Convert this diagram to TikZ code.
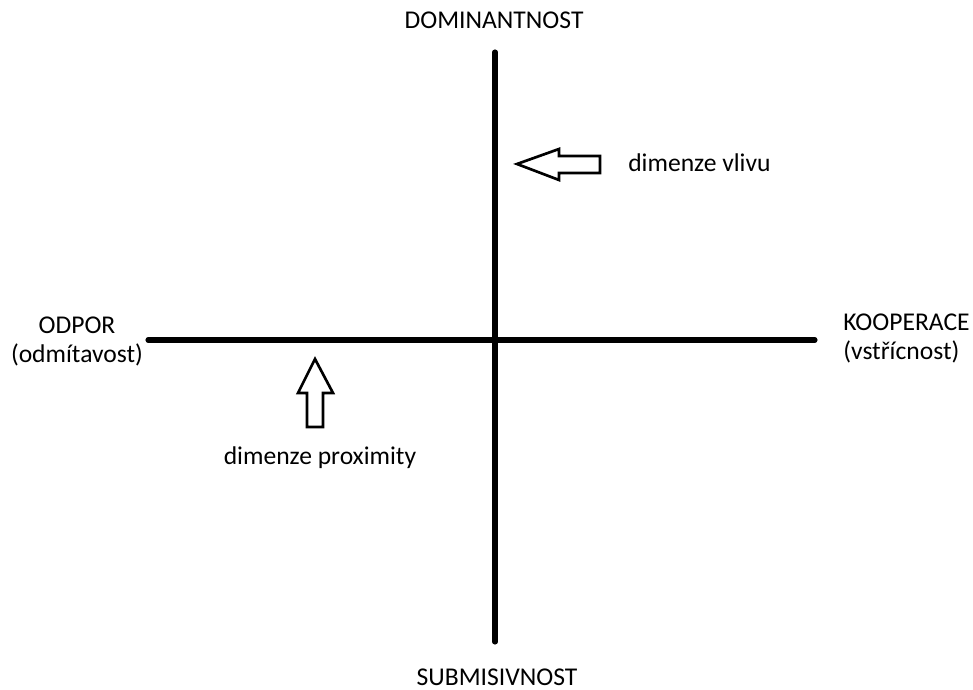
\documentclass[tikz,border=0pt]{standalone}
\usepackage{fontspec}
\setmainfont{Carlito}
\usetikzlibrary{positioning}

\tikzset{
  osa/.style={line width=3.6pt, line cap=round},
  sipka/.style={line width=1.9pt, line join=miter, fill=white},
  popis/.style={font=\fontsize{18.2}{20.6}\selectfont, inner sep=0pt, align=center}
}

\begin{document}
\begin{tikzpicture}[x=0.025cm, y=-0.025cm]
        \useasboundingbox (0,0) rectangle (973,690);

        % osy
        \draw[osa] (495,52) coordinate (N) -- (495,642) coordinate (S);
        \draw[osa] (148,340) coordinate (W) -- (815,340) coordinate (E);

        % popisky os
        \node[popis] (dom) at (494,20) {DOMINANTNOST};
        \node[popis] (sub) at (497,677) {SUBMISIVNOST};
        \node[popis] (odp) at (77,341) {ODPOR\\(odmítavost)};
        \node[popis, align=left, anchor=west] (koo) at (843,338) {KOOPERACE\\(vstřícnost)};

        % sipka vlivu
        \draw[sipka] (517,164) coordinate (vliv)
        -- (559,149) -- (559,156) -- (600,156)
        -- (600,173) -- (559,173) -- (559,180) -- cycle;
        \node[popis, anchor=west] (vlivu) at (628,163) {dimenze vlivu};

        % sipka proximity
        \draw[sipka] (315,359) coordinate (prox)
        -- (333,393) -- (323,393) -- (323,427)
        -- (307,427) -- (307,393) -- (298,393) -- cycle;
        \node[popis] (proxi) at (320,458) {dimenze proximity};

    \end{tikzpicture}
\end{document}
